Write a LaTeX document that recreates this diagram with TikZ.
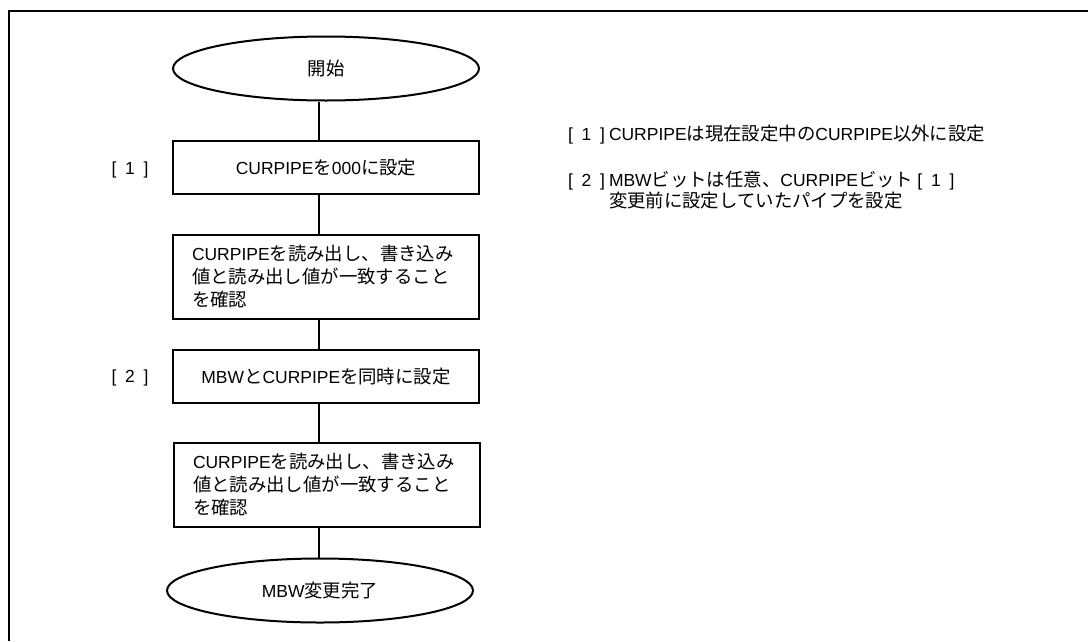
\documentclass[tikz,border=0pt]{standalone}
\usepackage{fontspec}
\setmainfont{Noto Sans CJK JP}
\newfontfamily\enfont[Scale=0.95]{Liberation Sans}
\newcommand*{\en}[1]{{\enfont #1}}
\newcommand*{\stepref}[1]{\en{[\enspace#1\enspace]}}
\usetikzlibrary{shapes.geometric}

\newcommand*{\picw}{1088}
\newcommand*{\pich}{641}

\begin{document}
\begin{tikzpicture}
[
	x=0.3mm, y=-0.3mm,
	line width=0.6mm,
	every node/.style={font=\fontsize{15.7pt}{19.6pt}\selectfont},
	terminal/.style={ellipse,draw,inner sep=0pt,minimum width=91.8mm,minimum height=19.2mm},
	process/.style={rectangle,draw,inner sep=0pt,minimum width=91.8mm,minimum height=15.9mm},
	processlong/.style={rectangle,draw,inner xsep=5.7mm,inner ysep=0pt,text width=80.4mm,align=left,minimum height=25.2mm},
	note/.style={anchor=west,inner sep=0pt,align=left},
	connector/.style={draw}
]

	\useasboundingbox (0,0) rectangle (\picw,\pich);

	% frame
	\draw (9,\pich) -- (9,11) -- (\picw,11);

	% flow
	\node[terminal] (start) at (326,68.5) {開始};
	\node[process] (setpipe) at (326,167.5) {\en{CURPIPE}を\en{000}に設定};
	\node[processlong] (checkone) at (326,276.5) {\en{CURPIPE}を読み出し、書き込み\\値と読み出し値が一致すること\\を確認};
	\node[process] (setmbw) at (326,376.5) {\en{MBW}と\en{CURPIPE}を同時に設定};
	\node[processlong] (checktwo) at (327,484.5) {\en{CURPIPE}を読み出し、書き込み\\値と読み出し値が一致すること\\を確認};
	\node[terminal] (finish) at (320,590.5) {\en{MBW}変更完了};

	% connectors
	\coordinate (spine) at (319,0);
	\foreach \a/\b in {start/setpipe,setpipe/checkone,checkone/setmbw,setmbw/checktwo,checktwo/finish} {
		\draw[connector] (\a.south -| spine) -- (\b.north -| spine);
	}

	% step marks
	\node (markone) at (130,170) {\stepref{1}};
	\node (marktwo) at (130,378) {\stepref{2}};

	% notes
	\node[note] (noteone) at (567,135) {\stepref{1} \en{CURPIPE}は現在設定中の\en{CURPIPE}以外に設定};
	\node[note,font=\fontsize{15.7pt}{17.9pt}\selectfont] (notetwo) at (567,191.5) {\stepref{2} \en{MBW}ビットは任意、\en{CURPIPE}ビット \stepref{1}\\\phantom{\stepref{2} }変更前に設定していたパイプを設定};

\end{tikzpicture}
\end{document}
